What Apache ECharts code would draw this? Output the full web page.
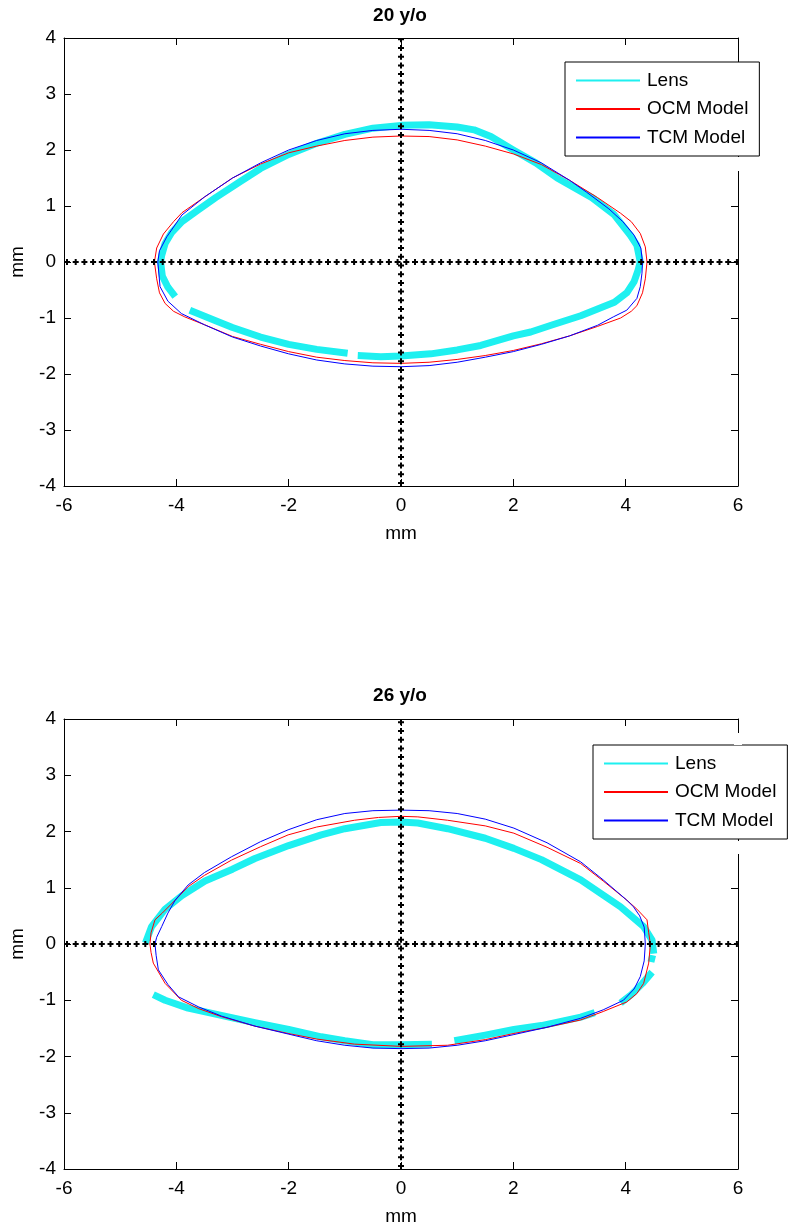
<!DOCTYPE html>
<html>
<head>
<meta charset="utf-8">
<script src="https://cdn.jsdelivr.net/npm/echarts@6/dist/echarts.min.js"></script>
<style>
html,body{margin:0;padding:0;background:#fff;}
#chart{width:800px;height:1230px;}
</style>
</head>
<body>
<div id="chart"></div>
<script>
// ---------- data ----------
const titles = ['20 y/o', '26 y/o'];
const seriesNames = ['Lens', 'OCM Model', 'TCM Model'];
const xRange = [-6, 6];
const yRange = [-4, 4];
const xStep = 2;
const yStep = 1;

// 20 y/o
const lens20_a = [[-0.77,-1.67],[-0.36,-1.69],[0,-1.68],[0.53,-1.64],[1.0,-1.57],[1.42,-1.49],[2.0,-1.32],[2.31,-1.25],[2.7,-1.12],[3.2,-0.96],[3.6,-0.8],[3.8,-0.72],[4.02,-0.55],[4.15,-0.35],[4.22,-0.15],[4.26,0],[4.2,0.3],[4.08,0.48],[3.79,0.85],[3.4,1.15],[2.78,1.5],[2.4,1.77],[2.0,2.0],[1.6,2.24],[1.3,2.36],[1.0,2.41],[0.5,2.45],[0,2.44],[-0.5,2.39],[-1.0,2.28],[-1.5,2.12],[-2.0,1.92],[-2.5,1.67],[-2.84,1.45],[-3.3,1.15],[-3.61,0.93],[-3.9,0.72],[-4.08,0.53],[-4.2,0.33],[-4.26,0.12],[-4.28,0],[-4.25,-0.25],[-4.15,-0.45],[-4.02,-0.62]];
const lens20_b = [[-3.76,-0.86],[-3.3,-1.05],[-3.0,-1.17],[-2.5,-1.34],[-2.0,-1.47],[-1.5,-1.56],[-0.95,-1.63]];
const ocm20 = [[4.38,0],[4.35,0.27],[4.26,0.51],[4.1,0.72],[3.91,0.87],[3.5,1.15],[3.0,1.46],[2.5,1.74],[2.0,1.93],[1.5,2.07],[1.0,2.18],[0.5,2.24],[0,2.25],[-0.5,2.23],[-1.0,2.17],[-1.5,2.07],[-2.0,1.95],[-2.5,1.75],[-3.0,1.5],[-3.5,1.16],[-3.9,0.88],[-4.05,0.72],[-4.23,0.5],[-4.35,0.25],[-4.39,0],[-4.35,-0.3],[-4.3,-0.55],[-4.2,-0.74],[-4.05,-0.88],[-3.85,-0.98],[-3.5,-1.12],[-3.0,-1.33],[-2.5,-1.47],[-2.0,-1.6],[-1.5,-1.7],[-1.0,-1.76],[-0.5,-1.8],[0,-1.81],[0.5,-1.79],[1.0,-1.74],[1.5,-1.67],[2.0,-1.58],[2.5,-1.46],[3.0,-1.32],[3.5,-1.15],[3.91,-1.0],[4.1,-0.88],[4.2,-0.78],[4.3,-0.55],[4.35,-0.3],[4.38,0]];
const tcm20 = [[4.30,0],[4.27,0.25],[4.15,0.48],[3.95,0.72],[3.7,0.95],[3.3,1.25],[3.0,1.46],[2.5,1.77],[2.0,2.0],[1.5,2.17],[1.0,2.29],[0.5,2.35],[0,2.37],[-0.5,2.35],[-1.0,2.29],[-1.5,2.17],[-2.0,2.0],[-2.5,1.77],[-3.0,1.5],[-3.5,1.16],[-3.9,0.84],[-4.17,0.45],[-4.3,0.2],[-4.33,0],[-4.29,-0.44],[-4.15,-0.7],[-3.91,-0.92],[-3.5,-1.12],[-3.0,-1.34],[-2.5,-1.5],[-2.0,-1.64],[-1.5,-1.75],[-1.0,-1.82],[-0.5,-1.86],[0,-1.87],[0.5,-1.85],[1.0,-1.79],[1.5,-1.7],[2.0,-1.6],[2.5,-1.47],[3.0,-1.32],[3.5,-1.13],[3.78,-0.98],[4.02,-0.86],[4.2,-0.65],[4.26,-0.44],[4.29,-0.2],[4.30,0]];

// 26 y/o
const lens26_a = [[4.50,-0.17],[4.47,0.07],[4.32,0.31],[3.91,0.66],[3.2,1.14],[2.5,1.5],[2.01,1.70],[1.5,1.88],[0.83,2.05],[0.3,2.15],[0,2.17],[-0.36,2.16],[-1.0,2.05],[-1.42,1.94],[-2.0,1.75],[-2.6,1.52],[-3.0,1.33],[-3.49,1.12],[-3.9,0.86],[-4.2,0.62],[-4.44,0.31],[-4.55,0.02]];
const lens26_b = [[4.48,-0.2],[4.45,-0.32]];
const lens26_c = [[4.47,-0.5],[4.3,-0.7],[4.1,-0.9],[3.91,-1.05]];
const lens26_d = [[3.45,-1.22],[3.2,-1.3],[2.5,-1.45],[2.01,-1.52],[1.5,-1.62],[0.95,-1.72]];
const lens26_e = [[0.55,-1.78],[0,-1.79],[-0.5,-1.79],[-1.0,-1.72],[-1.42,-1.65],[-2.0,-1.52],[-2.6,-1.4],[-3.2,-1.27],[-3.79,-1.14],[-4.2,-1.0],[-4.41,-0.9]];
const ocm26 = [[4.44,0],[4.41,0.2],[4.38,0.43],[4.2,0.62],[4.02,0.78],[3.6,1.12],[3.2,1.43],[2.6,1.72],[2.01,1.97],[1.5,2.1],[0.83,2.2],[0.3,2.26],[0,2.27],[-0.4,2.25],[-0.83,2.2],[-1.5,2.08],[-2.01,1.94],[-2.5,1.73],[-3.02,1.49],[-3.5,1.22],[-3.79,1.02],[-4.02,0.78],[-4.25,0.55],[-4.38,0.43],[-4.45,0.2],[-4.47,0],[-4.45,-0.15],[-4.41,-0.34],[-4.2,-0.7],[-3.91,-1.0],[-3.6,-1.15],[-3.2,-1.29],[-2.6,-1.46],[-2.01,-1.59],[-1.5,-1.69],[-0.83,-1.78],[0,-1.82],[0.83,-1.8],[1.5,-1.7],[2.01,-1.59],[2.6,-1.48],[3.2,-1.35],[3.6,-1.2],[4.02,-1.03],[4.2,-0.88],[4.32,-0.7],[4.41,-0.34],[4.44,0]];
const tcm26 = [[4.35,0],[4.33,0.3],[4.25,0.5],[4.14,0.66],[4.02,0.78],[3.6,1.14],[3.2,1.46],[2.6,1.8],[2.01,2.06],[1.5,2.22],[1.0,2.32],[0.5,2.37],[0,2.38],[-0.5,2.37],[-1.0,2.32],[-1.5,2.21],[-2.01,2.03],[-2.5,1.82],[-3.02,1.55],[-3.5,1.27],[-3.79,1.05],[-4.02,0.78],[-4.15,0.55],[-4.26,0.31],[-4.35,0.12],[-4.38,0],[-4.36,-0.2],[-4.32,-0.46],[-4.15,-0.72],[-3.96,-0.94],[-3.6,-1.12],[-3.2,-1.28],[-2.6,-1.46],[-2.01,-1.6],[-1.5,-1.72],[-1.0,-1.8],[-0.5,-1.85],[0,-1.86],[0.5,-1.85],[1.0,-1.8],[1.5,-1.72],[2.01,-1.61],[2.6,-1.48],[3.2,-1.32],[3.6,-1.17],[3.96,-1.0],[4.15,-0.8],[4.26,-0.58],[4.33,-0.3],[4.35,0]];

// reference crosshair lines (x = 0 and y = 0)
const hLine = [[-6,0],[6,0]];
const vLine = [[0,-4],[0,4]];

// ---------- styling / layout ----------
const FONT = 'Arial, "Liberation Sans", sans-serif';
const CYAN = '#1ef0f0', RED = '#ff0000', BLUE = '#0000ff';
const grids = [
  {left: 62, top: 38, width: 676, height: 448},
  {left: 62, top: 719, width: 676, height: 450}
];
const legendPos = [{left: 565, top: 62}, {left: 593, top: 745}];
const panels = [
  {lens: [lens20_a, lens20_b], ocm: ocm20, tcm: tcm20},
  {lens: [lens26_a, lens26_b, lens26_c, lens26_d, lens26_e], ocm: ocm26, tcm: tcm26}
];

const xAxes = [], yAxes = [], series = [], titleOpts = [], legends = [];
grids.forEach((g, i) => {
  const common = {
    gridIndex: i, type: 'value',
    axisLine: {show: true, onZero: false, lineStyle: {color: '#000', width: 1}},
    axisTick: {show: true, inside: true, length: 7, lineStyle: {color: '#000'}},
    splitLine: {show: false}
  };
  xAxes.push(Object.assign({}, common, {
    position: 'bottom', min: xRange[0], max: xRange[1], interval: xStep,
    axisLabel: {color: '#000', fontSize: 19, fontFamily: FONT, margin: 10},
    name: 'mm', nameLocation: 'middle', nameGap: 38,
    nameTextStyle: {color: '#000', fontSize: 19, fontFamily: FONT}
  }));
  xAxes.push(Object.assign({}, common, {
    position: 'top', min: xRange[0], max: xRange[1], interval: xStep,
    axisLabel: {show: false}
  }));
  yAxes.push(Object.assign({}, common, {
    position: 'left', min: yRange[0], max: yRange[1], interval: yStep,
    axisLabel: {color: '#000', fontSize: 19, fontFamily: FONT, margin: 8},
    name: 'mm', nameLocation: 'middle', nameGap: 37,
    nameTextStyle: {color: '#000', fontSize: 19, fontFamily: FONT}
  }));
  yAxes.push(Object.assign({}, common, {
    position: 'right', min: yRange[0], max: yRange[1], interval: yStep,
    axisLabel: {show: false}
  }));

  const xi = i * 2, yi = i * 2;
  const p = panels[i];
  p.lens.forEach(seg => series.push({
    name: seriesNames[0], type: 'line', xAxisIndex: xi, yAxisIndex: yi,
    data: seg, symbol: 'none', z: 2,
    lineStyle: {color: CYAN, width: 7, cap: 'butt', join: 'round'},
    itemStyle: {color: CYAN}
  }));
  series.push({
    name: seriesNames[1], type: 'line', xAxisIndex: xi, yAxisIndex: yi,
    data: p.ocm, symbol: 'none', z: 3,
    lineStyle: {color: RED, width: 1}, itemStyle: {color: RED}
  });
  series.push({
    name: seriesNames[2], type: 'line', xAxisIndex: xi, yAxisIndex: yi,
    data: p.tcm, symbol: 'none', z: 4,
    lineStyle: {color: BLUE, width: 1}, itemStyle: {color: BLUE}
  });
  [hLine, vLine].forEach(ln => {
    series.push({
      type: 'line', xAxisIndex: xi, yAxisIndex: yi, data: ln, symbol: 'none', z: 5,
      silent: true, lineStyle: {color: '#000', width: 2, type: [6, 2.7]}
    });
    series.push({
      type: 'line', xAxisIndex: xi, yAxisIndex: yi, data: ln, symbol: 'none', z: 5,
      silent: true, lineStyle: {color: '#000', width: 6, type: [2, 6.7], dashOffset: -2}
    });
  });

  titleOpts.push({
    text: titles[i], left: 'center', top: i === 0 ? 6 : 686, padding: 0,
    textStyle: {color: '#000', fontSize: 19, fontWeight: 'bold', fontFamily: FONT}
  });
  legends.push({
    data: seriesNames.map(n => ({name: n, icon: 'rect'})), orient: 'vertical',
    left: legendPos[i].left, top: legendPos[i].top,
    padding: [9, 11, 9, 11], itemGap: 9.5, itemWidth: 64, itemHeight: 2,
    backgroundColor: '#fff', borderColor: '#000', borderWidth: 1,
    selectedMode: false,
    textStyle: {color: '#000', fontSize: 19, fontFamily: FONT, padding: [0, 0, 0, 2]},
    z: 10
  });
});

const chart = echarts.init(document.getElementById('chart'), null, {renderer: 'canvas'});
chart.setOption({
  animation: false,
  backgroundColor: '#fff',
  title: titleOpts,
  legend: legends,
  grid: grids,
  xAxis: xAxes,
  yAxis: yAxes,
  series: series,
  graphic: [
    {type: 'rect', shape: {x: 734, y: 157, width: 8, height: 14}, style: {fill: '#fff'}, z: 100},
    {type: 'rect', shape: {x: 734, y: 733, width: 8, height: 12}, style: {fill: '#fff'}, z: 100},
    {type: 'rect', shape: {x: 734, y: 841, width: 8, height: 13}, style: {fill: '#fff'}, z: 100}
  ]
});
</script>
</body>
</html>
